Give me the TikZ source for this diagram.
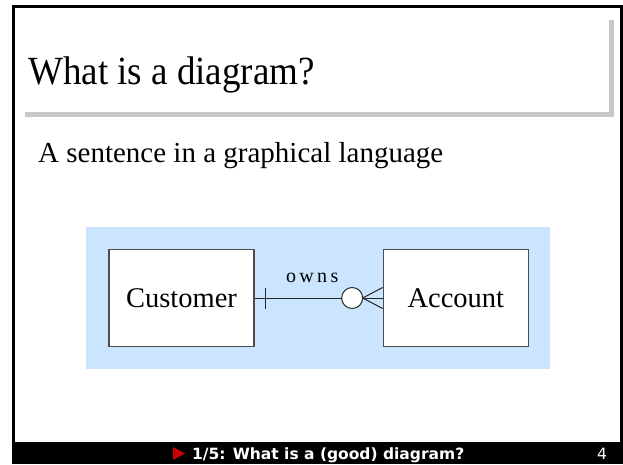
\documentclass[tikz,border=0pt]{standalone}
\usepackage{fontspec}
\setmainfont{Liberation Serif}
\newfontfamily\footfont{DejaVu Sans}
\usepackage{graphicx}
\usepackage{xcolor}
\usepackage{tikz}
\usetikzlibrary{arrows.meta,positioning}

\definecolor{panelblue}{RGB}{204,229,255}
\definecolor{shadowgray}{RGB}{200,200,200}
\definecolor{footred}{RGB}{204,0,0}

\begin{document}
\begin{tikzpicture}[
  x=1pt, y=-1pt,
  entity/.style={draw=black!70,line width=1.3pt,fill=white,minimum width=145pt,minimum height=97pt,inner sep=0pt,font=\fontsize{28.5}{31}\selectfont},
  relline/.style={draw=black!85,line width=1pt},
  title/.style={anchor=base west,inner sep=0pt,font=\fontsize{40}{44}\selectfont},
  subtitle/.style={anchor=base west,inner sep=0pt,font=\fontsize{29}{32}\selectfont},
  foottext/.style={text=white,inner sep=0pt,anchor=base west}
]
\useasboundingbox (0,0) rectangle (623,464);
\fill[white] (0,0) rectangle (623,464);
% slide frame and footer bar
\fill[black] (12,5) rectangle (623,8);
\fill[black] (12,5) rectangle (15,464);
\fill[black] (620,5) rectangle (623,464);
\fill[black] (12,442) rectangle (623,464);
% title shadow
\fill[shadowgray] (25,112) rectangle (614,117);
\fill[shadowgray] (609,20) rectangle (614,117);

\node[title] (head) at (28,84) {\scalebox{0.925}[1]{What is a diagram?}};
\node[subtitle] (sub) at (38,162) {A sentence in a graphical language};

% the ER panel
\fill[panelblue] (86,227) rectangle (550,369);
\node[entity] (cust) at (181.5,298) {Customer};
\node[entity,right=128pt of cust] (acct) {Account};

\draw[relline] (cust) -- (acct) node[pos=0.45,above=15pt,inner sep=0pt,font=\fontsize{20}{22}\selectfont] (rel) {o\,w\,n\,s};
% one side: bar
\coordinate (bar) at ([xshift=11pt]cust.east);
\draw[relline] ([yshift=-10.5pt]bar) -- ([yshift=10.5pt]bar);
% many side: circle and crow's foot
\coordinate (foot) at ([xshift=-20pt]acct.west);
\draw[relline] (foot) -- ([yshift=-10.5pt]acct.west);
\draw[relline] (foot) -- ([yshift=10.5pt]acct.west);
\draw[relline,fill=white] ([xshift=-10.5pt]foot) circle (10.5pt);

% footer
\fill[footred] (173,447) -- (185,453.5) -- (173,460) -- cycle;
\node[foottext,font=\footfont\bfseries\fontsize{15.5}{17}\selectfont] (foot) at (192,459) {1/5: What is a (good) diagram?};
\node[foottext,font=\footfont\fontsize{15.5}{17}\selectfont] (page) at (597,459) {4};
\end{tikzpicture}
\end{document}
